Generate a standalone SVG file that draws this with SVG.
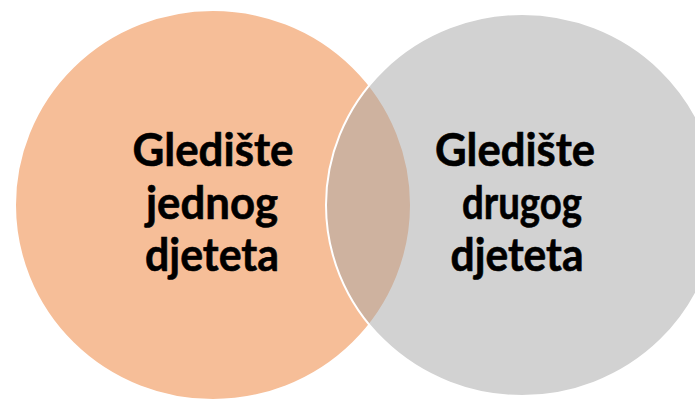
<svg xmlns="http://www.w3.org/2000/svg" width="695" height="399" viewBox="0 0 695 399">
  <style>
    .lbl { font-family: Lato, "Open Sans", "Liberation Sans", sans-serif; font-weight: 700; font-size: 45px; fill: #000000; stroke: #000000; stroke-width: 0.6; text-anchor: middle; }
    .c { stroke: #FFFFFF; stroke-width: 2; }
  </style>
  <rect width="695" height="399" fill="#FFFFFF"/>
  <g id="node-left">
    <ellipse class="c" cx="213" cy="205" rx="198" ry="195" fill="#ED7D31" fill-opacity="0.5"/>
  </g>
  <g id="node-right">
    <ellipse class="c" cx="522" cy="205" rx="196" ry="191" fill="#A5A5A5" fill-opacity="0.5"/>
  </g>
  <g id="connectors"></g>
  <g id="labels-left">
    <text class="lbl" x="213" y="166" textLength="161" lengthAdjust="spacingAndGlyphs">Gledište</text>
    <text class="lbl" x="212" y="219" textLength="132" lengthAdjust="spacingAndGlyphs">jednog</text>
    <text class="lbl" x="212" y="271" textLength="134" lengthAdjust="spacingAndGlyphs">djeteta</text>
  </g>
  <g id="labels-right">
    <text class="lbl" x="515" y="166" textLength="160" lengthAdjust="spacingAndGlyphs">Gledište</text>
    <text class="lbl" x="522" y="219" textLength="120" lengthAdjust="spacingAndGlyphs">drugog</text>
    <text class="lbl" x="517" y="271" textLength="133" lengthAdjust="spacingAndGlyphs">djeteta</text>
  </g>
</svg>
